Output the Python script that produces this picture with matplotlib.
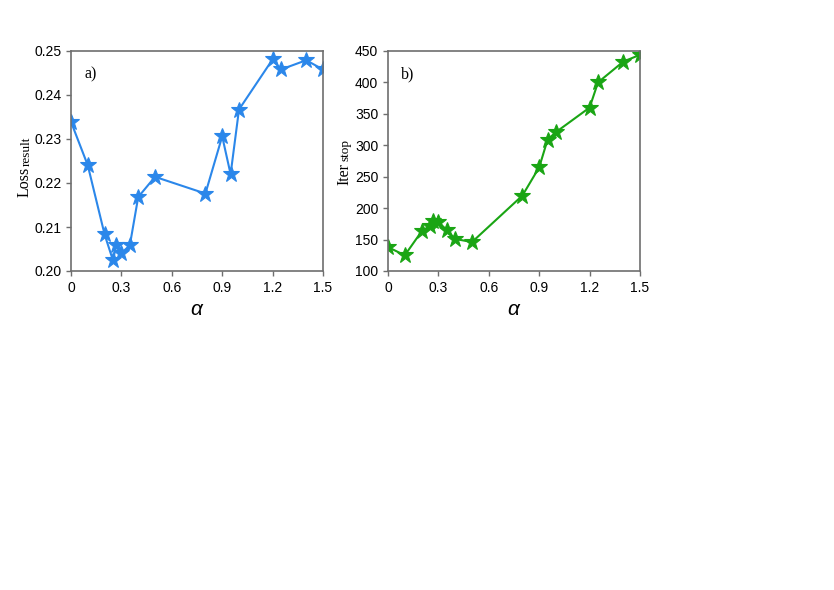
import matplotlib
matplotlib.use("Agg")
import matplotlib.pyplot as plt

plt.rcParams["mathtext.fontset"] = "custom"
plt.rcParams["mathtext.it"] = "Liberation Sans:italic"
plt.rcParams["mathtext.rm"] = "Liberation Sans"

alpha = [0, 0.1, 0.2, 0.25, 0.27, 0.3, 0.35, 0.4, 0.5, 0.8, 0.9, 0.95, 1.0, 1.2, 1.25, 1.4, 1.5]
loss_result = [0.2339, 0.2240, 0.2083, 0.2024, 0.2060, 0.2041, 0.2058, 0.2168, 0.2214,
               0.2176, 0.2306, 0.2220, 0.2367, 0.2481, 0.2458, 0.2479, 0.2458]
iter_stop = [138, 125, 163, 172, 180, 178, 165, 151, 146,
             220, 265, 309, 321, 360, 400, 433, 444]

xticks = [0, 0.3, 0.6, 0.9, 1.2, 1.5]
xticklabels = ["0", "0.3", "0.6", "0.9", "1.2", "1.5"]
yticks_a = [0.20, 0.21, 0.22, 0.23, 0.24, 0.25]
yticks_b = [100, 150, 200, 250, 300, 350, 400, 450]

W, H = 834, 590
fig = plt.figure(figsize=(W / 100, H / 100), dpi=100)

sans = "Liberation Sans"
serif = "Liberation Serif"
spine_c = "#6e6e6e"

def px(x, y):
    return x / W, 1 - y / H

def style(ax):
    for s in ax.spines.values():
        s.set_color(spine_c)
        s.set_linewidth(1.2)
    ax.tick_params(direction="out", length=3.5, width=1.0, color=spine_c,
                   labelsize=10, pad=3.5)
    ax.set_xlim(0, 1.5)
    ax.set_xticks(xticks)
    ax.set_xticklabels(xticklabels, fontfamily=sans)
    ax.set_xlabel(r"$\alpha$", fontsize=15, labelpad=3)

def ylabel(main, sub, x_base, y_start, y_sub_start):
    fig.text(*px(x_base, y_start), main, rotation=90, rotation_mode="anchor",
             ha="left", va="baseline", fontsize=11.5, fontfamily=serif)
    fig.text(*px(x_base + 1, y_sub_start), sub, rotation=90, rotation_mode="anchor",
             ha="left", va="baseline", fontsize=9.5, fontfamily=serif)

axA = fig.add_axes([71 / W, 1 - 271 / H, 252 / W, 220 / H])
axB = fig.add_axes([388 / W, 1 - 271 / H, 252 / W, 220 / H])

axA.plot(alpha, loss_result, color="#2b87ea", lw=1.5, marker="*", ms=12,
         markeredgewidth=0.8)
axA.set_ylim(0.20, 0.25)
axA.set_yticks(yticks_a)
axA.set_yticklabels([f"{v:.2f}" for v in yticks_a], fontfamily=sans)
style(axA)
axA.text(0.052, 0.893, "a)", transform=axA.transAxes, fontsize=11.5,
         fontfamily=serif, va="center", ha="left")
ylabel("Loss", "result", 29, 197, 166)

axB.plot(alpha, iter_stop, color="#1aa514", lw=1.5, marker="*", ms=12,
         markeredgewidth=0.8)
axB.set_ylim(100, 450)
axB.set_yticks(yticks_b)
axB.set_yticklabels([str(v) for v in yticks_b], fontfamily=sans)
style(axB)
axB.text(0.052, 0.893, "b)", transform=axB.transAxes, fontsize=11.5,
         fontfamily=serif, va="center", ha="left")
ylabel("Iter", "stop", 348, 185, 161)

fig.savefig("out.png", dpi=100)
